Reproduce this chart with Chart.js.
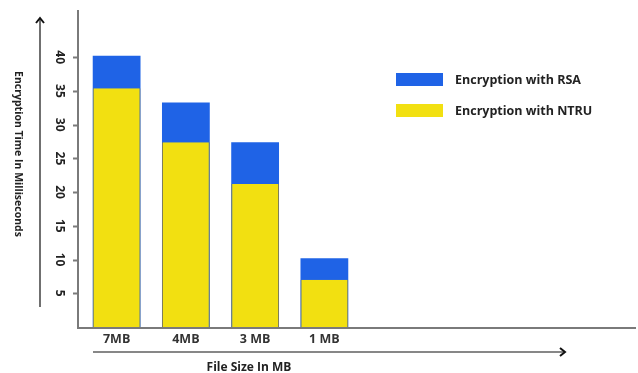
<!DOCTYPE html>
<html>
<head>
<meta charset="utf-8">
<script src="https://cdn.jsdelivr.net/npm/chart.js@4.4.1/dist/chart.umd.min.js"></script>
<style>
	html, body { margin: 0; padding: 0; background: #fff; }
	#wrap { width: 638px; height: 373px; position: relative; }
</style>
</head>
<body>
<div id="wrap"><canvas id="chart"></canvas></div>
<script>
// padded with empty slots so the four bars sit on the left like the original
const categories = ['7MB', '4MB', '3 MB', '1 MB', '', '', '', ''];
const rsaTimes = [40.2, 33.3, 27.4, 10.2];
const ntruTimes = [35.4, 27.4, 21.2, 7.0];
const yTicks = [5, 10, 15, 20, 25, 30, 35, 40];
const xTitle = 'File Size In MB';
const yTitle = 'Encryption Time In Milliseconds';

const FONT = '"Open Sans", sans-serif';
const AXIS = '#7a7a7a';

// axis lines sit a few px left of the plot, then rotated tick labels, arrows, titles, legend
const decor = {
	id: 'decor',
	afterDraw(chart) {
		const { ctx, chartArea: a } = chart;
		const y = chart.scales.y;
		const ax = a.left - 4;
		ctx.save();

		ctx.strokeStyle = AXIS;
		ctx.lineWidth = 2;
		ctx.beginPath();
		ctx.moveTo(ax, a.top);
		ctx.lineTo(ax, a.bottom + 1);
		ctx.lineTo(a.right, a.bottom + 1);
		for (const t of yTicks) {
			const py = Math.round(y.getPixelForValue(t)) + 0.5;
			ctx.moveTo(ax - 5, py);
			ctx.lineTo(ax, py);
		}
		ctx.stroke();

		ctx.fillStyle = '#222';
		ctx.font = `bold 12px ${FONT}`;
		ctx.textAlign = 'center';
		ctx.textBaseline = 'middle';
		for (const t of yTicks) {
			ctx.save();
			ctx.translate(59, y.getPixelForValue(t));
			ctx.rotate(Math.PI / 2);
			ctx.fillText(String(t), 0, 0);
			ctx.restore();
		}

		// y title, reads top to bottom
		ctx.font = `bold 10.5px ${FONT}`;
		ctx.save();
		ctx.translate(18, 154);
		ctx.rotate(Math.PI / 2);
		ctx.fillText(yTitle, 0, 0);
		ctx.restore();

		// x title
		ctx.font = `bold 12px ${FONT}`;
		ctx.fillText(xTitle, 249, 368);

		// arrows
		ctx.strokeStyle = '#111';
		ctx.lineWidth = 1.2;
		ctx.beginPath();
		ctx.moveTo(40, 19);
		ctx.lineTo(40, 307);
		ctx.moveTo(93, 352);
		ctx.lineTo(564, 352);
		ctx.stroke();
		ctx.lineWidth = 2;
		ctx.beginPath();
		ctx.moveTo(36, 23);
		ctx.lineTo(40, 18);
		ctx.lineTo(44, 23);
		ctx.moveTo(560, 348);
		ctx.lineTo(565, 352);
		ctx.lineTo(560, 356);
		ctx.stroke();

		// legend
		ctx.font = `bold 12.5px ${FONT}`;
		ctx.textAlign = 'left';
		const rows = [73, 104];
		chart.data.datasets.forEach((ds, i) => {
			ctx.fillStyle = ds.backgroundColor;
			ctx.fillRect(396, rows[i], 47, 13);
			ctx.fillStyle = '#222';
			ctx.fillText(ds.label, 455, rows[i] + 7);
		});
		ctx.restore();
	}
};

new Chart(document.getElementById('chart'), {
	type: 'bar',
	data: {
		labels: categories,
		datasets: [
			{ label: 'Encryption with RSA', data: rsaTimes, backgroundColor: '#1f63e6', order: 1, grouped: false },
			{ label: 'Encryption with NTRU', data: ntruTimes, backgroundColor: '#f2e011', order: 0, grouped: false,
				borderColor: '#7d7d5c', borderWidth: { left: 1, right: 1, top: 0, bottom: 0 } }
		]
	},
	options: {
		responsive: true,
		maintainAspectRatio: false,
		animation: false,
		layout: { padding: { top: 10, right: 2, left: 0, bottom: 0 } },
		plugins: { legend: { display: false }, tooltip: { enabled: false } },
		datasets: { bar: { categoryPercentage: 1, barPercentage: 0.69 } },
		scales: {
			x: {
				grid: { display: false, drawTicks: false },
				border: { display: false },
				ticks: { color: '#333', font: { family: FONT, size: 12.5, weight: 'bold' }, padding: 5, maxRotation: 0, autoSkip: false },
				afterFit: s => { s.height = 46; }
			},
			y: {
				min: 0,
				max: 47,
				ticks: { display: false, stepSize: 5 },
				grid: { display: false, drawTicks: false },
				border: { display: false },
				afterFit: s => { s.width = 82; }
			}
		}
	},
	plugins: [decor]
});
</script>
</body>
</html>
